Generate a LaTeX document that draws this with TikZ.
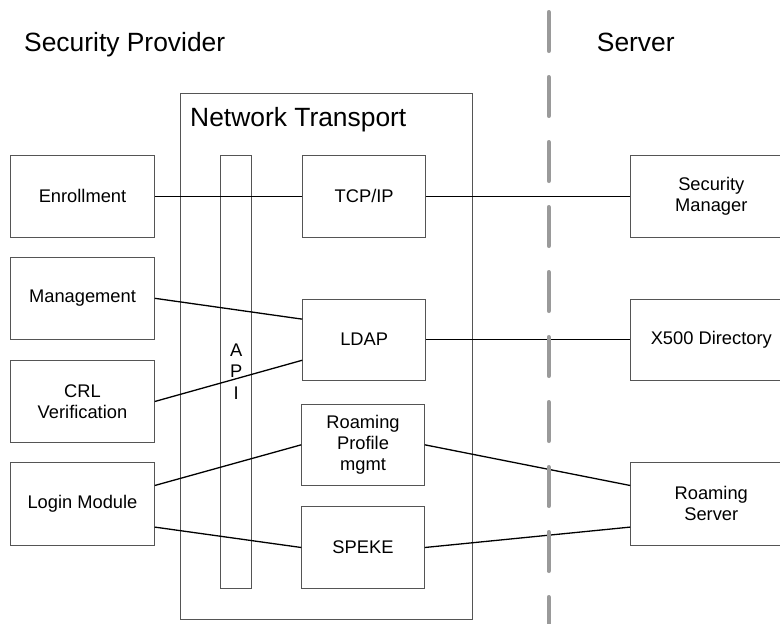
\documentclass[tikz,border=0pt]{standalone}
\usepackage{fontspec}
\setmainfont{Liberation Sans}
\usetikzlibrary{calc}
\definecolor{boxline}{HTML}{555555}
\definecolor{divider}{HTML}{9A9A9A}
\tikzset{
  box/.style={draw=boxline, line width=0.9pt, rectangle, inner sep=0pt, align=center,
    font=\fontsize{18.3}{21}\selectfont},
  conn/.style={draw=black, line width=1.3pt},
  bigtext/.style={font=\fontsize{26.4}{30}\selectfont, inner sep=0pt},
}
\begin{document}
\begin{tikzpicture}[x=1pt,y=-1pt]
\clip (0,0) rectangle (780,624);
\fill[white] (0,0) rectangle (780,624);

% titles
\node[bigtext, anchor=base west] (sp) at (24,51.7) {Security Provider};
\node[bigtext, anchor=base west] (srv) at (596.7,51.7) {Server};

% network transport container and API bar
\node[box, minimum width=292, minimum height=525.3] (nt) at (326,356.3) {};
\node[bigtext, anchor=base west] (ntl) at (190,126.7) {Network Transport};
\node[box, minimum width=31, minimum height=433.3] (api) at (236.2,371.7) {};
\node[align=center, inner sep=0pt, font=\fontsize{18.3}{21.7}\selectfont] (apil) at (236.2,371.5) {A\\P\\I};

% left column
\node[box, minimum width=143.6, minimum height=82.3] (enr) at (82.5,196.2) {Enrollment};
\node[box, minimum width=143.6, minimum height=82] (mgmt) at (82.5,298.3) {Management};
\node[box, minimum width=143.6, minimum height=81.6] (crl) at (82.5,401.5) {CRL\\Verification};
\node[box, minimum width=143.6, minimum height=82.3] (login) at (82.5,503.8) {Login Module};

% middle column
\node[box, minimum width=123, minimum height=82.3] (tcp) at (364.2,196.2) {TCP/IP};
\node[box, minimum width=123, minimum height=81.3] (ldap) at (364.2,339.7) {LDAP};
\node[box, minimum width=122.6, minimum height=81.7] (rp) at (363,444.8) {Roaming\\Profile\\mgmt};
\node[box, minimum width=122.6, minimum height=81.6] (speke) at (363,547.5) {SPEKE};

% right column
\node[box, minimum width=161.3, minimum height=82.3] (secm) at (711.3,196.2) {Security\\Manager};
\node[box, minimum width=161.3, minimum height=81.3] (x500) at (711.3,339.7) {X500 Directory};
\node[box, minimum width=161.3, minimum height=82.3] (rs) at (711.3,503.8) {Roaming\\Server};

% connectors
\draw[conn] (enr.east) -- (tcp.west);
\draw[conn] (tcp.east) -- (secm.west);
\draw[conn] (mgmt.east) -- ($(ldap.north west)!0.25!(ldap.south west)$);
\draw[conn] (crl.east) -- ($(ldap.north west)!0.75!(ldap.south west)$);
\draw[conn] (ldap.east) -- (x500.west);
\draw[conn] ($(login.north east)!0.28!(login.south east)$) -- (rp.west);
\draw[conn] ($(login.north east)!0.78!(login.south east)$) -- (speke.west);
\draw[conn] (rp.east) -- ($(rs.north west)!0.28!(rs.south west)$);
\draw[conn] (speke.east) -- ($(rs.north west)!0.78!(rs.south west)$);

% divider
\coordinate (dtop) at (548.7,12);
\coordinate (dbot) at (548.7,640);
\draw[divider, line width=4pt, line cap=round, dash pattern=on 39pt off 26pt] (dtop) -- (dbot);
\end{tikzpicture}
\end{document}
